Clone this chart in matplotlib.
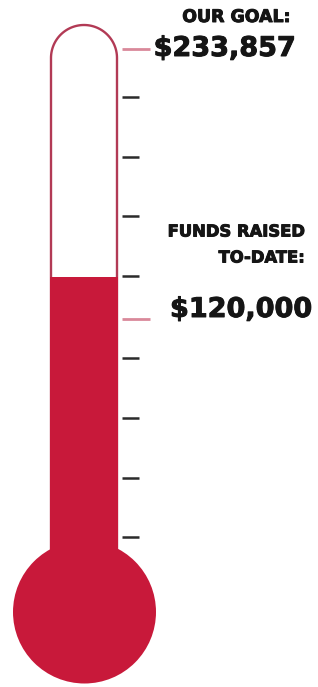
import numpy as np
import matplotlib.pyplot as plt
import matplotlib.patheffects as pe
from matplotlib.patches import Ellipse, Rectangle

# ---- data ----
goal = 233857
raised = 120000
fill_level = 137700          # height of the red column as drawn
scale_ticks = [213600, 188300, 163400, 138100, 103600, 78300, 53000, 28100]
goal_header = "OUR GOAL:"
raised_header = ["FUNDS RAISED", "TO-DATE:"]
goal_label = "$233,857"
raised_label = "$120,000"

# ---- layout ----
W, H = 318, 687
fig = plt.figure(figsize=(W / 100, H / 100), dpi=100)
ax = fig.add_axes([0, 0, 1, 1])
ax.axis('off')

goal_px, raised_px = 49, 319
k = (raised_px - goal_px) / (goal - raised)   # px per dollar
zero_px = raised_px + raised * k
ax.set_xlim(0, W)
ax.set_ylim((zero_px - H) / k, zero_px / k)


def v(px):
    return (zero_px - px) / k


RED = '#c8193a'
OUTLINE = '#b23a55'
xl, xr = 51, 117
xc = (xl + xr) / 2
r_top = (xr - xl) / 2
arc_c = v(25 + r_top)
bulb_c = v(612)
bulb_r = 71.5

# filled column
ax.add_patch(Rectangle((xl - 1.3, bulb_c), (xr - xl) + 2.6, fill_level - bulb_c,
                       facecolor=RED, edgecolor='none', zorder=3))
# bulb
ax.add_patch(Ellipse((xc + 0.5, bulb_c), 2 * bulb_r, 2 * bulb_r / k,
                     facecolor=RED, edgecolor='none', zorder=3))

# tube outline
theta = np.linspace(np.pi, 0, 60)
pts = [(xl, v(550))] + [(xc + r_top * np.cos(t), arc_c + r_top * np.sin(t) / k)
                        for t in theta] + [(xr, v(550))]
xs, ys = zip(*pts)
ax.plot(xs, ys, color=OUTLINE, lw=1.7, zorder=2, solid_capstyle='butt')

# scale ticks
ax.hlines(scale_ticks, 122, 139, color='#2b2b2b', lw=1.8, zorder=3)
ax.hlines([goal, raised], 122, 150, color='#d9899a', lw=2.0, zorder=3)

fam = ['DejaVu Sans']
TXT = '#151515'
thick = [pe.withStroke(linewidth=0.7, foreground=TXT)]
ax.text(291, goal + 32 / k, goal_header, ha='right', va='center',
        fontsize=12.5, fontweight='bold', family=fam, color=TXT, path_effects=thick)
ax.text(296, goal, goal_label, ha='right', va='center',
        fontsize=19.5, fontweight='bold', family=fam, color=TXT, path_effects=thick)
ax.text(305, raised + 87 / k, raised_header[0], ha='right', va='center',
        fontsize=11.8, fontweight='bold', family=fam, color=TXT, path_effects=thick)
ax.text(305, raised + 61 / k, raised_header[1], ha='right', va='center',
        fontsize=11.8, fontweight='bold', family=fam, color=TXT, path_effects=thick)
ax.text(312, raised + 9 / k, raised_label, ha='right', va='center',
        fontsize=19.5, fontweight='bold', family=fam, color=TXT, path_effects=thick)

fig.savefig('out.png', dpi=100, facecolor='white')
